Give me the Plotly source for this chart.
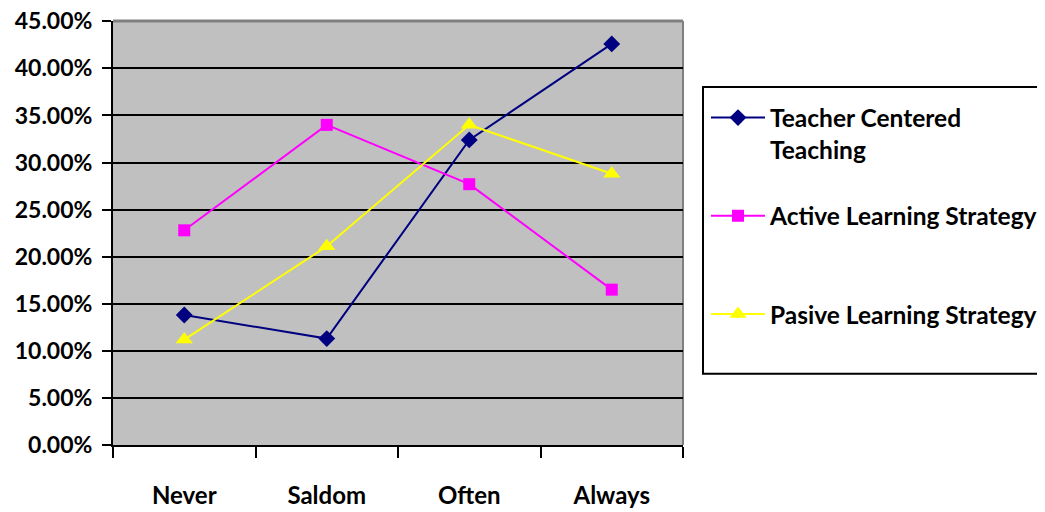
import plotly.graph_objects as go

categories = ["Never", "Saldom", "Often", "Always"]
teacher = [0.138, 0.113, 0.324, 0.426]
active = [0.228, 0.340, 0.277, 0.165]
passive = [0.112, 0.211, 0.340, 0.288]
y_ticks = [0.0, 0.05, 0.10, 0.15, 0.20, 0.25, 0.30, 0.35, 0.40, 0.45]
names = ["Teacher Centered<br>Teaching", "Active Learning Strategy<br>&nbsp;", "Pasive Learning Strategy<br>&nbsp;"]
colors = ["#000080", "#FF00FF", "#FFFF00"]
symbols = ["diamond", "square", "triangle-up"]
sizes = [13, 12, 15]

FONT = "Lato, Roboto, sans-serif"

# page body has an 8px offset; positions below are in screenshot pixels
OFF = 8
W, H = 1045, 512
L = 113 - OFF
R = W - (683 - OFF)
T = 20.7 - OFF
B = H - (445.5 - OFF)
pw = W - L - R
ph = H - T - B

def px(x):
    return (x - OFF - L) / pw

def py(y):
    return (H - B - (y - OFF)) / ph

fig = go.Figure()
for i, vals in enumerate([teacher, active, passive]):
    fig.add_trace(go.Scatter(
        x=categories, y=vals, name=names[i], mode="lines+markers",
        legendgroup=str(i),
        line=dict(color=colors[i], width=2),
        marker=dict(symbol=symbols[i], size=sizes[i], color=colors[i]),
    ))

fig.update_layout(
    width=W, height=H,
    margin=dict(l=L, r=R, t=T, b=B, autoexpand=False),
    paper_bgcolor="white",
    plot_bgcolor="#C0C0C0",
    font=dict(family=FONT, size=24, color="black"),
    showlegend=True,
    legend=dict(
        x=px(706), y=py(95), xanchor="left", yanchor="top",
        font=dict(family=FONT, size=24.5, color="black", weight="bold"),
        valign="top", tracegroupgap=31.5, traceorder="grouped",
        itemwidth=54, bgcolor="rgba(0,0,0,0)", borderwidth=0,
    ),
    xaxis=dict(
        type="category", range=[-0.5, 3.5],
        showline=True, linecolor="black", linewidth=2,
        ticks="outside", tickson="boundaries", ticklen=11, tickwidth=2, tickcolor="black",
        showgrid=False, ticklabelstandoff=28,
        tickfont=dict(family=FONT, size=24, color="black", weight="bold"),
    ),
    yaxis=dict(
        range=[0, 0.4503], tickmode="array", tickvals=y_ticks, tickformat=".2%",
        showline=True, linecolor="black", linewidth=2,
        ticks="outside", ticklen=9, tickwidth=2, tickcolor="black",
        showgrid=True, gridcolor="black", gridwidth=2, zeroline=False,
        ticklabelstandoff=5, ticklabeloverflow="allow",
        tickfont=dict(family=FONT, size=23, color="black", weight="bold"),
    ),
    shapes=[
        dict(type="line", xref="paper", yref="paper", x0=0, x1=1, y0=1, y1=1,
             line=dict(color="#808080", width=3), layer="above"),
        dict(type="line", xref="paper", yref="paper", x0=1, x1=1, y0=0, y1=1,
             line=dict(color="#808080", width=2), layer="below"),
        dict(type="rect", xref="paper", yref="paper",
             x0=px(703), x1=px(1044), y0=py(374), y1=py(86.7),
             line=dict(color="black", width=2), fillcolor="rgba(0,0,0,0)"),
    ],
)

fig.write_html("out.html")
